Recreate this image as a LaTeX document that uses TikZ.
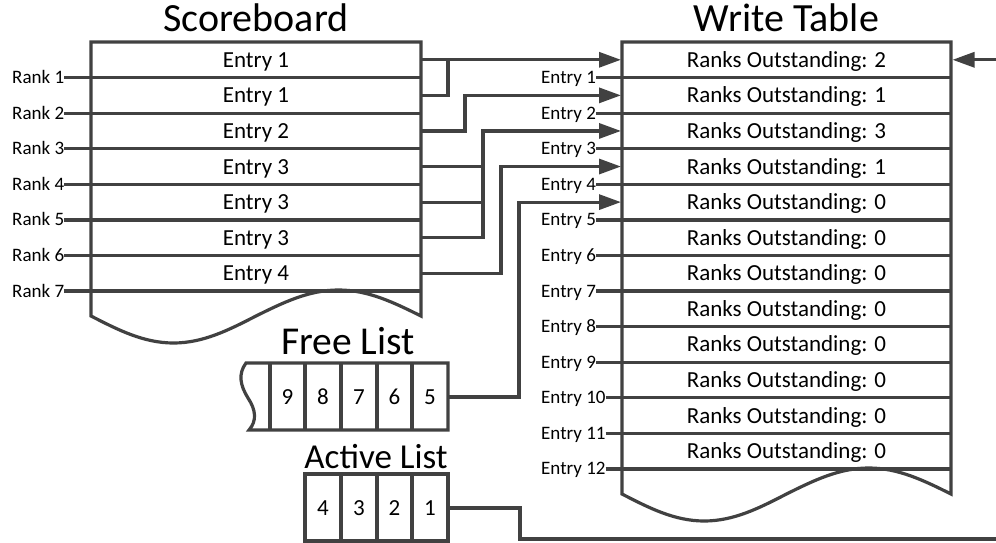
\documentclass[tikz,border=0pt]{standalone}
\usepackage{fontspec}
\setmainfont{Carlito}
\usetikzlibrary{arrows.meta}
\definecolor{ln}{HTML}{414141}
\begin{document}
\begin{tikzpicture}[x=1pt,y=-1pt,
  frame/.style={draw=ln, line width=3.2pt, line join=miter},
  wire/.style={draw=ln, line width=3.2pt, line join=miter},
  arr/.style={wire, -{Triangle[length=22pt,width=15pt]}},
  title/.style={font=\fontsize{40}{42}\selectfont, anchor=base, inner sep=0pt},
  celltxt/.style={font=\fontsize{23}{26}\selectfont, inner sep=0pt, text height=15pt, text depth=0pt},
  lbl/.style={font=\fontsize{19}{21}\selectfont, inner sep=0pt, anchor=west, text height=12pt, text depth=0pt}]
\useasboundingbox (0,0) rectangle (996,543);
\def\rh{35.58}
% ---------- titles
\node[title] (tsb) at (256,31.5) {Scoreboard};
\node[title] (twt) at (786.5,31.5) {Write Table};
\node[title, font=\fontsize{39.5}{42}\selectfont] (tfl) at (348,354) {Free List};
\node[title, font=\fontsize{35}{38}\selectfont] (tal) at (376,468) {Active List};
% ---------- scoreboard
\draw[frame] (421,316) -- (421,42) -- (91,42) -- (91,316)
  sin (173.5,343) cos (256,316) sin (338.5,290) cos (421,316) -- cycle;
\foreach \t [count=\k] in {Entry 1,Entry 1,Entry 2,Entry 3,Entry 3,Entry 3,Entry 4}{
  \pgfmathsetmacro\yc{42+\rh*(\k-0.5)}
  \pgfmathsetmacro\yl{42+\rh*\k}
  \node[celltxt] (sbe\k) at (256,\yc) {\t};
  \coordinate (sbR\k) at (421,\yc);
  \node[lbl] (rk\k) at (12,\yl) {Rank \k};
  \coordinate (sbL\k) at (421,\yl);
  \draw[wire] (rk\k.east) -- (sbL\k);
}
% ---------- write table
\draw[frame] (951,494) -- (951,42) -- (622,42) -- (622,494)
  sin (704.25,521) cos (786.5,494) sin (868.75,468) cos (951,494) -- cycle;
\foreach \n [count=\k] in {2,1,3,1,0,0,0,0,0,0,0,0}{
  \pgfmathsetmacro\yc{42+\rh*(\k-0.5)}
  \pgfmathsetmacro\yl{42+\rh*\k}
  \node[celltxt] (wte\k) at (786.5,\yc) {Ranks Outstanding: \n};
  \coordinate (wtL\k) at (621,\yc);
  \node[lbl] (en\k) at (541,\yl) {Entry \k};
  \coordinate (wtE\k) at (951,\yl);
  \draw[wire] (en\k.east) -- (wtE\k);
}
% ---------- free list
\draw[frame] (246,363) -- (448,363) -- (448,430) -- (249,430)
  .. controls (257,421) and (256,410) .. (248,398)
  .. controls (240,385) and (238,374) .. (246,363) -- cycle;
\foreach \x in {270,305,341,377,412}{ \draw[frame] (\x,363) -- (\x,430); }
\foreach \v/\x in {9/287.5,8/323,7/359,6/394.5,5/430}{
  \node[celltxt] (fl\v) at (\x,397) {\v};
}
\coordinate (flR) at (448,397);
% ---------- active list
\draw[frame] (305,474) rectangle (448,541);
\foreach \x in {341,377,412}{ \draw[frame] (\x,474) -- (\x,541); }
\foreach \v/\x in {4/323,3/359,2/394.5,1/430}{
  \node[celltxt] (al\v) at (\x,507.5) {\v};
}
\coordinate (alR) at (448,508);
% ---------- connectors
\coordinate (jA) at (448,0);
\coordinate (jB) at (465,0);
\coordinate (jC) at (483,0);
\coordinate (jD) at (501,0);
\coordinate (jE) at (519,0);
\draw[arr] (sbR1) -- (wtL1);
\draw[wire] (sbR2) -- (jA |- sbR2) -- (jA |- sbR1);
\draw[arr] (sbR3) -- (jB |- sbR3) -- (jB |- wtL2) -- (wtL2);
\draw[wire] (sbR4) -- (jC |- sbR4);
\draw[wire] (sbR5) -- (jC |- sbR5);
\draw[arr] (sbR6) -- (jC |- sbR6) -- (jC |- wtL3) -- (wtL3);
\draw[arr] (sbR7) -- (jD |- sbR7) -- (jD |- wtL4) -- (wtL4);
\draw[arr] (flR) -- (jE |- flR) -- (jE |- wtL5) -- (wtL5);
\coordinate (inR) at (996,59.79);
\coordinate (wtR1) at (952.5,59.79);
\draw[arr] (inR) -- (wtR1);
\coordinate (outR) at (996,539);
\draw[wire] (alR) -- (520,508) -- (520,539) -- (outR);
\end{tikzpicture}
\end{document}
